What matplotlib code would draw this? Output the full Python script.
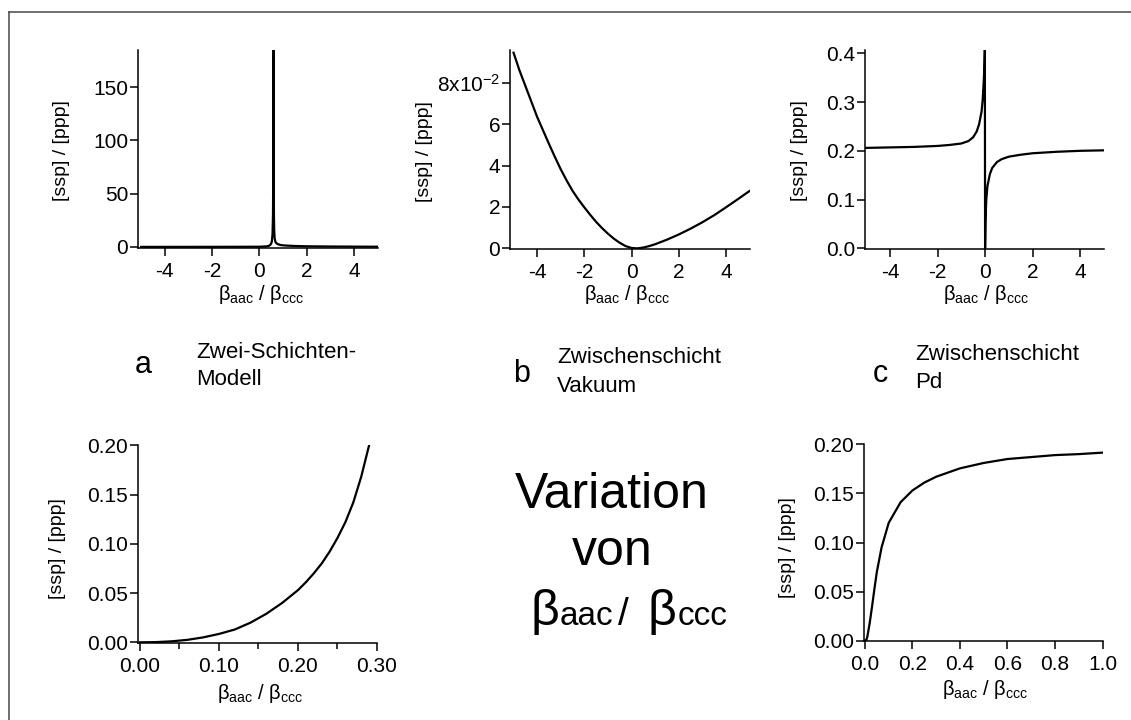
import matplotlib
matplotlib.use('Agg')
import matplotlib.pyplot as plt
from matplotlib.lines import Line2D
from matplotlib.ticker import FixedLocator, MultipleLocator, FormatStrFormatter

plt.rcParams['font.family'] = ['Liberation Sans', 'DejaVu Sans']
plt.rcParams['mathtext.fontset'] = 'custom'
plt.rcParams['mathtext.rm'] = 'Liberation Sans'
plt.rcParams['mathtext.it'] = 'Liberation Sans:italic'
plt.rcParams['mathtext.bf'] = 'Liberation Sans:bold'
plt.rcParams['axes.unicode_minus'] = False

#panel a: two-layer model, sharp resonance
x_a = [-5, -2, 0, 0.3, 0.4, 0.45, 0.5, 0.53, 0.56, 0.58, 0.59, 0.6, 0.61, 0.62, 0.63,
       0.65, 0.68, 0.72, 0.8, 0.9, 1.0, 1.2, 1.5, 2.0, 3.0, 4.0, 5.0]
y_a = [0.05, 0.1, 0.2, 0.5, 1.0, 1.6, 3, 5, 12, 30, 70, 185, 75, 30, 16,
       8, 5, 3.5, 2.5, 1.8, 1.5, 1.2, 0.9, 0.6, 0.4, 0.3, 0.2]

#panel b: interlayer vacuum
x_b = [-5, -4.75, -4.5, -4.25, -4, -3.75, -3.5, -3.25, -3, -2.75, -2.5, -2.25, -2, -1.75,
       -1.5, -1.25, -1, -0.75, -0.5, -0.25, 0, 0.25, 0.5, 0.75, 1, 1.5, 2, 2.5, 3, 3.5, 4, 4.5, 5]
y_b = [0.0945, 0.086, 0.0785, 0.071, 0.0635, 0.057, 0.0505, 0.0442, 0.0382, 0.0328, 0.0278,
       0.0236, 0.0198, 0.0162, 0.0128, 0.0098, 0.0071, 0.0047, 0.0027, 0.0011, 0.0002, 0.0,
       0.0004, 0.0011, 0.002, 0.0042, 0.0067, 0.0095, 0.0126, 0.016, 0.0198, 0.0237, 0.0277]

#panel c: interlayer Pd
x_c = [-5, -4, -3, -2, -1.5, -1, -0.7, -0.5, -0.35, -0.25, -0.15, -0.1, -0.06, -0.03, -0.01,
       0.0, 0.02, 0.05, 0.1, 0.2, 0.3, 0.5, 0.7, 1.0, 1.5, 2, 3, 4, 5]
y_c = [0.206, 0.207, 0.208, 0.210, 0.212, 0.215, 0.220, 0.228, 0.240, 0.255, 0.28, 0.305, 0.34, 0.37, 0.41,
       0.0, 0.06, 0.10, 0.128, 0.152, 0.165, 0.177, 0.183, 0.188, 0.192, 0.195, 0.198, 0.200, 0.201]

#bottom left: zoom of model a
x_d = [0, 0.02, 0.04, 0.06, 0.08, 0.10, 0.12, 0.14, 0.16, 0.18, 0.20, 0.21, 0.22, 0.23,
       0.24, 0.25, 0.26, 0.27, 0.28, 0.29]
y_d = [0, 0.0002, 0.001, 0.0025, 0.005, 0.0085, 0.013, 0.02, 0.029, 0.04, 0.053, 0.061, 0.07,
       0.08, 0.092, 0.106, 0.122, 0.142, 0.168, 0.2]

#bottom right: zoom of model c
x_e = [0, 0.005, 0.01, 0.02, 0.03, 0.04, 0.05, 0.07, 0.1, 0.15, 0.2, 0.25, 0.3, 0.4, 0.5, 0.6, 0.7, 0.8, 0.9, 1.0]
y_e = [0, 0.0, 0.004, 0.018, 0.035, 0.053, 0.07, 0.095, 0.12, 0.141, 0.153, 0.161, 0.167, 0.1755,
       0.181, 0.185, 0.187, 0.189, 0.190, 0.1915]

ylab = '[ssp] / [ppp]'
xlab = r'β$_{\mathrm{aac}}$ / β$_{\mathrm{ccc}}$'

W, H = 1131, 720
fig = plt.figure(figsize=(W / 100, H / 100), dpi=100)


def px_axes(x0, x1, top, bottom):
    return fig.add_axes([x0 / W, 1 - bottom / H, (x1 - x0) / W, (bottom - top) / H])


def ftext(x, y, s, **kw):
    return fig.text(x / W, 1 - y / H, s, **kw)


def style(ax):
    for side in ['top', 'right']:
        ax.spines[side].set_visible(False)
    for side in ['left', 'bottom']:
        ax.spines[side].set_linewidth(1.1)
    ax.tick_params(which='major', direction='out', length=6, width=1.1, labelsize=15)
    ax.tick_params(which='minor', direction='out', length=4, width=1.1)
    ax.tick_params(axis='x', pad=4)
    ax.tick_params(axis='y', pad=1)


#top row
ax1 = px_axes(138, 377.5, 50, 248)
ax1.plot(x_a, y_a, color='black', lw=1.6)
ax1.set_xlim(-5.13, 5)
ax1.set_ylim(-1, 185)
ax1.xaxis.set_major_locator(FixedLocator([-4, -2, 0, 2, 4]))
ax1.yaxis.set_major_locator(FixedLocator([0, 50, 100, 150]))
style(ax1)

ax2 = px_axes(510, 749.5, 50, 249)
ax2.plot(x_b, y_b, color='black', lw=1.6)
ax2.set_xlim(-5.15, 5)
ax2.set_ylim(-0.0003, 0.0958)
ax2.xaxis.set_major_locator(FixedLocator([-4, -2, 0, 2, 4]))
ax2.set_yticks([0, 0.02, 0.04, 0.06, 0.08])
ax2.set_yticklabels(['0', '2', '4', '6', r'8x10$^{\mathrm{-2}}$'])
style(ax2)

ax3 = px_axes(865, 1104, 50, 249)
ax3.plot(x_c, y_c, color='black', lw=1.6)
ax3.set_xlim(-5.05, 5)
ax3.set_ylim(-0.0014, 0.4068)
ax3.xaxis.set_major_locator(FixedLocator([-4, -2, 0, 2, 4]))
ax3.yaxis.set_major_locator(MultipleLocator(0.1))
ax3.yaxis.set_major_formatter(FormatStrFormatter('%.1f'))
style(ax3)

#bottom row
ax4 = px_axes(138, 377, 445, 643)
ax4.plot(x_d, y_d, color='black', lw=1.6)
ax4.set_xlim(-0.0025, 0.3)
ax4.set_ylim(-0.0007, 0.2003)
ax4.xaxis.set_major_locator(MultipleLocator(0.1))
ax4.xaxis.set_minor_locator(MultipleLocator(0.05))
ax4.xaxis.set_major_formatter(FormatStrFormatter('%.2f'))
ax4.yaxis.set_major_locator(MultipleLocator(0.05))
ax4.yaxis.set_major_formatter(FormatStrFormatter('%.2f'))
style(ax4)

ax5 = px_axes(864, 1102.5, 444, 641.4)
ax5.plot(x_e, y_e, color='black', lw=1.6)
ax5.set_xlim(-0.004, 1.0)
ax5.set_ylim(-0.0007, 0.2003)
ax5.xaxis.set_major_locator(MultipleLocator(0.2))
ax5.xaxis.set_major_formatter(FormatStrFormatter('%.1f'))
ax5.yaxis.set_major_locator(MultipleLocator(0.05))
ax5.yaxis.set_major_formatter(FormatStrFormatter('%.2f'))
style(ax5)

#axis titles placed by hand like the original layout
for (x, y) in [(62, 151), (425, 152), (800, 151), (57, 549), (787, 548)]:
    ftext(x, y, ylab, rotation=90, ha='center', va='center', fontsize=14)
for (x, y) in [(261, 300), (627, 300), (986, 300), (260, 699), (985, 695)]:
    ftext(x, y, xlab, ha='center', va='baseline', fontsize=14.5)

#panel captions
ftext(135, 373, 'a', fontsize=22, va='baseline')
ftext(196, 358, 'Zwei-Schichten-', fontsize=16, va='baseline')
ftext(196, 385, 'Modell', fontsize=16, va='baseline')
ftext(513, 382, 'b', fontsize=22, va='baseline')
ftext(557, 363, 'Zwischenschicht', fontsize=16, va='baseline')
ftext(557, 392, 'Vakuum', fontsize=16, va='baseline')
ftext(873, 382, 'c', fontsize=22, va='baseline')
ftext(915, 360, 'Zwischenschicht', fontsize=16, va='baseline')
ftext(915, 388, 'Pd', fontsize=16, va='baseline')

#centre title
ftext(612, 508, 'Variation', fontsize=36, ha='center', va='baseline')
ftext(612, 565, 'von', fontsize=36, ha='center', va='baseline')

#last line: big betas with normal-size letters, chained left to right
renderer = fig.canvas.get_renderer()
pieces = [('β', 36, 1), ('aac', 24, 5), ('/', 28, 18), ('β', 36, 1), ('ccc', 24, 0)]
xpos = 530
for s, fs, gap in pieces:
    t = ftext(xpos, 625, s, fontsize=fs, va='baseline')
    bb = t.get_window_extent(renderer)
    xpos = bb.x1 + gap

#grey frame on left and top
fig.add_artist(Line2D([9 / W, 9 / W], [0, 1 - 12 / H], transform=fig.transFigure,
                      color='#555555', lw=1.2))
fig.add_artist(Line2D([9 / W, 1], [1 - 12 / H, 1 - 12 / H], transform=fig.transFigure,
                      color='#555555', lw=1.2))

fig.savefig('out.png', dpi=100)
